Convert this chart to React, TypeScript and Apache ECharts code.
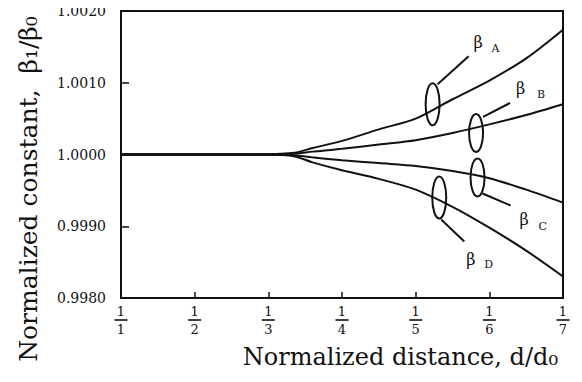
import React, { useEffect, useRef } from "react";
import * as echarts from "echarts";

const xPositions = [1, 2, 2.8, 3.33, 3.6, 4, 4.5, 5, 5.5, 6, 6.5, 7];
const betaA = [1.0, 1.0, 1.0, 1.00002, 1.00009, 1.00019, 1.00035, 1.0005, 1.00077, 1.00103, 1.00134, 1.00174];
const betaB = [1.0, 1.0, 1.0, 1.00001, 1.00004, 1.00008, 1.00014, 1.0002, 1.0003, 1.00042, 1.00055, 1.0007];
const betaC = [1.0, 1.0, 1.0, 0.99999, 0.99996, 0.99992, 0.99988, 0.99984, 0.99977, 0.99967, 0.99951, 0.99933];
const betaD = [1.0, 1.0, 1.0, 0.99998, 0.99989, 0.99978, 0.99966, 0.99951, 0.99927, 0.99898, 0.99866, 0.9983];
const xTickDenominators = ["1", "2", "3", "4", "5", "6", "7"];
const yTicks = [0.998, 0.999, 1.0, 1.001, 1.002];

const FONT = "DejaVu Serif";
const INK = "#111";

function pairs(ys: number[]) {
  return xPositions.map((x, i) => [x, ys[i]]);
}

export default function App() {
  const ref = useRef<HTMLDivElement>(null);
  useEffect(() => {
    if (!ref.current) return;
    const chart = echarts.init(ref.current, null, { renderer: "svg" });
    const lineStyle = { color: INK, width: 2 };
    const mk = (name: string, ys: number[]) => ({
      name,
      type: "line",
      data: pairs(ys),
      smooth: 0.3,
      symbol: "none",
      lineStyle,
    });
    chart.setOption({
      animation: false,
      backgroundColor: "#fff",
      grid: {
        left: 121,
        right: 19,
        top: 11,
        bottom: 84,
        show: true,
        borderColor: INK,
        borderWidth: 2,
      },
      xAxis: {
        type: "value",
        min: 1,
        max: 7,
        interval: 1,
        splitLine: { show: false },
        axisLine: { lineStyle: { color: INK, width: 2 } },
        axisTick: { inside: true, length: 6, lineStyle: { color: INK, width: 1.5 } },
        axisLabel: {
          margin: 7,
          formatter: (v: number) => `{n|1}\n{l| }\n{d|${xTickDenominators[Math.round(v) - 1]}}`,
          rich: {
            n: { fontFamily: FONT, fontSize: 13, color: INK, lineHeight: 13 },
            l: { width: 13, height: 1.6, lineHeight: 4, fontSize: 2, backgroundColor: INK },
            d: { fontFamily: FONT, fontSize: 13, color: INK, lineHeight: 14 },
          },
        },
      },
      yAxis: {
        type: "value",
        min: yTicks[0],
        max: yTicks[yTicks.length - 1],
        interval: 0.001,
        splitLine: { show: false },
        axisLine: { lineStyle: { color: INK, width: 2 } },
        axisTick: { inside: true, length: 8, lineStyle: { color: INK, width: 1.5 } },
        axisLabel: {
          margin: 15,
          fontFamily: FONT,
          fontSize: 14,
          color: INK,
          formatter: (v: number) => v.toFixed(4),
        },
      },
      series: [mk("βA", betaA), mk("βB", betaB), mk("βC", betaC), mk("βD", betaD)],
    });

    const p = (x: number, y: number) => chart.convertToPixel({ gridIndex: 0 }, [x, y]) as number[];
    const ann = (
      c: number[],
      ry: number,
      l1: number[],
      l2: number[],
      bx: number,
      by: number,
      sub: string,
      sx: number,
      sy: number
    ) => [
      {
        type: "ellipse",
        shape: { cx: c[0], cy: c[1], rx: 7, ry },
        style: { fill: "none", stroke: INK, lineWidth: 2 },
      },
      {
        type: "line",
        shape: { x1: c[0] + l1[0], y1: c[1] + l1[1], x2: c[0] + l2[0], y2: c[1] + l2[1] },
        style: { stroke: INK, lineWidth: 2 },
      },
      {
        type: "text",
        x: c[0] + bx,
        y: c[1] + by,
        style: { text: "β", fontFamily: FONT, fontSize: 16, fill: INK, textVerticalAlign: "middle" },
      },
      {
        type: "text",
        x: c[0] + sx,
        y: c[1] + sy,
        style: { text: sub, fontFamily: FONT, fontSize: 11, fill: INK, textVerticalAlign: "middle" },
      },
    ];
    const a = p(5.23, 1.0007);
    const b = p(5.82, 1.0003);
    const c = p(5.84, 0.99968);
    const d = p(5.32, 0.9994);
    chart.setOption({
      graphic: [
        ...ann(a, 21, [5, -20], [36, -48], 41, -62, "A", 59, -56),
        ...ann(b, 19, [7, -16], [34, -30], 40, -44, "B", 61, -38),
        ...ann(c, 19, [5, 16], [33, 28], 42, 42, "C", 61, 49),
        ...ann(d, 21, [2, 22], [25, 44], 27, 62, "D", 45, 67),
        {
          type: "text",
          x: 558,
          y: 357,
          style: {
            text: "Normalized distance, d/d₀",
            fontFamily: FONT,
            fontSize: 24,
            fill: INK,
            textAlign: "right",
            textVerticalAlign: "middle",
          },
        },
        {
          type: "text",
          x: 28,
          y: 189,
          rotation: Math.PI / 2,
          style: {
            text: "Normalized constant,  β₁/β₀",
            fontFamily: FONT,
            fontSize: 25,
            fill: INK,
            textAlign: "center",
            textVerticalAlign: "middle",
          },
        },
      ],
    });
    return () => chart.dispose();
  }, []);
  return <div ref={ref} style={{ width: 582, height: 382, margin: -8 }} />;
}
